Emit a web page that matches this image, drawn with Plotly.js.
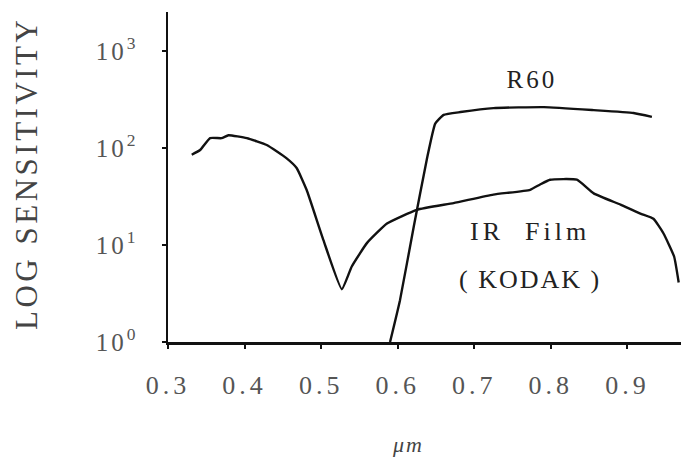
<!DOCTYPE html>
<html>
<head>
<meta charset="utf-8">
<script src="https://cdn.plot.ly/plotly-3.0.1.min.js"></script>
<style>html,body{margin:0;padding:0;background:#fff;}#chart{width:681px;height:457px;}</style>
</head>
<body>
<div id="chart"></div>
<script>
// IR Film (KODAK) sensitivity curve
const irWavelength = [0.331, 0.342, 0.355, 0.370, 0.379, 0.403, 0.429, 0.455, 0.468, 0.481, 0.503, 0.527, 0.540, 0.560, 0.586, 0.625, 0.673, 0.725, 0.773, 0.786, 0.799, 0.834, 0.856, 0.891, 0.917, 0.934, 0.947, 0.961, 0.967];
const irSensitivity = [85, 95, 126, 126, 135, 126, 107, 78, 62, 37, 11.2, 3.5, 6.0, 10.5, 16.6, 23, 27, 33, 37, 42, 47, 47, 34, 26, 21, 18.6, 13.2, 7.6, 4.1];
// R60 sensitivity curve
const r60Wavelength = [0.590, 0.603, 0.621, 0.638, 0.649, 0.660, 0.682, 0.725, 0.791, 0.856, 0.908, 0.932];
const r60Sensitivity = [1.0, 2.7, 15.5, 76, 178, 219, 234, 257, 263, 245, 229, 209];
// axis ticks
const xTickVals = [0.3, 0.4, 0.5, 0.6, 0.7, 0.8, 0.9];
const xTickText = ["0.3", "0.4", "0.5", "0.6", "0.7", "0.8", "0.9"];
const yTickVals = [1, 10, 100, 1000];
const yTickText = ["10<sup>0</sup>", "10<sup>1</sup>", "10<sup>2</sup>", "10<sup>3</sup>"];
// texts
const yTitle = "LOG SENSITIVITY";
const xTitle = "<i>μm</i>";
const r60Label = "R60";
const irLabel = "IR  Film";
const kodakLabel = "( KODAK )";

const serif = "Liberation Serif, serif";
const lineStyle = {color: "#111", width: 2.4, shape: "spline", smoothing: 0.4};
const traces = [
  {x: irWavelength, y: irSensitivity, type: "scatter", mode: "lines", line: lineStyle, name: "IR Film (KODAK)", hoverinfo: "skip"},
  {x: r60Wavelength, y: r60Sensitivity, type: "scatter", mode: "lines", line: lineStyle, name: "R60", hoverinfo: "skip"}
];

const layout = {
  width: 681, height: 457,
  margin: {l: 168, r: 0, t: 12, b: 115},
  paper_bgcolor: "#fff", plot_bgcolor: "#fff",
  showlegend: false,
  font: {family: serif, color: "#333"},
  xaxis: {
    range: [0.3, 0.97], showgrid: false, zeroline: false,
    showline: true, linecolor: "#111", linewidth: 2.5,
    ticks: "outside", ticklen: 4, tickwidth: 2, tickcolor: "#111",
    tickvals: xTickVals, ticktext: xTickText, ticklabelstandoff: 14,
    tickfont: {family: serif, size: 26, color: "#555"}
  },
  yaxis: {
    type: "log", range: [0, 3.4], showgrid: false, zeroline: false,
    showline: true, linecolor: "#111", linewidth: 2.5,
    ticks: "outside", ticklen: 4, tickwidth: 2, tickcolor: "#111",
    tickvals: yTickVals, ticktext: yTickText, ticklabelstandoff: 18,
    tickfont: {family: serif, size: 25, color: "#555"}
  },
  annotations: [
    {x: (27 - 168) / 513, y: 0.51, xref: "paper", yref: "paper", text: yTitle, textangle: -90,
     showarrow: false, xanchor: "center", yanchor: "middle",
     font: {family: serif, size: 31, color: "#444"}},
    {x: (408 - 168) / 513, y: (342 - 445) / 330, xref: "paper", yref: "paper", text: xTitle,
     showarrow: false, xanchor: "center", yanchor: "middle",
     font: {family: serif, size: 22, color: "#444"}},
    {x: 0.775, y: 2.70, xref: "x", yref: "y", text: r60Label, showarrow: false,
     font: {family: serif, size: 25, color: "#222"}},
    {x: 0.773, y: 1.14, xref: "x", yref: "y", text: irLabel, showarrow: false,
     font: {family: serif, size: 26, color: "#222"}},
    {x: 0.773, y: 0.64, xref: "x", yref: "y", text: kodakLabel, showarrow: false,
     font: {family: serif, size: 26, color: "#222"}}
  ]
};

Plotly.newPlot("chart", traces, layout, {staticPlot: true, displayModeBar: false}).then(function () {
  document.querySelectorAll(".xtick text").forEach(function (t) { t.style.letterSpacing = "4px"; });
  document.querySelectorAll(".ytick text").forEach(function (t) { t.style.letterSpacing = "3px"; });
  const spacing = ["3.5px", "2px", "3px", "4px", "2px"];
  document.querySelectorAll(".annotation-text").forEach(function (t, i) {
    t.style.letterSpacing = spacing[i] || "2px";
  });
});
</script>
</body>
</html>
